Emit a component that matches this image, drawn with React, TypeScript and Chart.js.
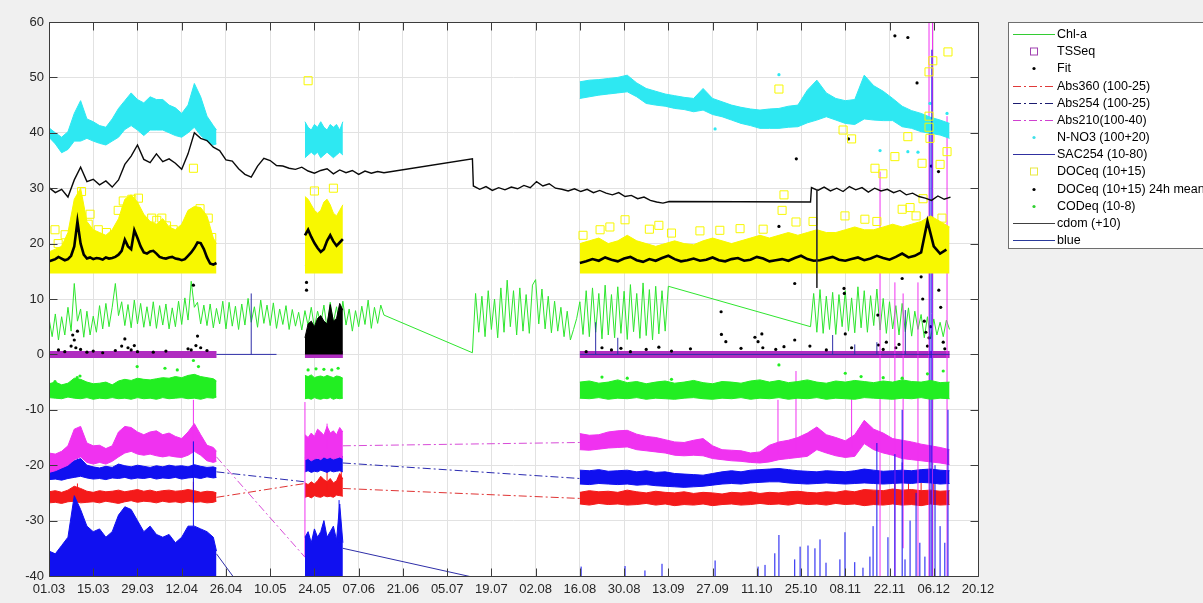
import React, { useEffect, useRef } from "react";
import { Chart, registerables } from "chart.js";

Chart.register(...registerables);

const FONT = '"Liberation Sans", Arial, Helvetica, sans-serif';

// ---------- axes ----------
const tickDays = [0, 14, 28, 42, 56, 70, 84, 98, 112, 126, 140, 154, 168, 182, 196, 210, 224, 238, 252, 266, 280, 294];
const tickLabels = ["01.03", "15.03", "29.03", "12.04", "26.04", "10.05", "24.05", "07.06", "21.06", "05.07", "19.07", "02.08", "16.08", "30.08", "13.09", "27.09", "11.10", "25.10", "08.11", "22.11", "06.12", "20.12"];
const yTicks = [-40, -30, -20, -10, 0, 10, 20, 30, 40, 50, 60];

// ---------- sample days (days after 01.03) of the three measuring periods ----------
const daysA = [0, 2, 4, 6, 8, 10, 12, 14, 16, 18, 20, 22, 24, 26, 28, 30, 32, 34, 36, 38, 40, 42, 44, 46, 48, 50, 52, 53];
const daysB = [81, 82, 83, 84, 85, 86, 87, 88, 89, 90, 91, 92, 93];
const daysC = [168, 171, 174, 177, 180, 183, 186, 189, 192, 195, 198, 201, 204, 207, 210, 213, 216, 219, 222, 225, 228, 231, 234, 237, 240, 243, 246, 249, 252, 255, 258, 261, 264, 267, 270, 273, 276, 279, 282, 285];

// ---------- Chl-a (daily) ----------
const chlA = [6.5, 3.2, 7.3, 2.6, 6.8, 3.5, 8.5, 4.2, 12.8, 6, 8.2, 3.1, 7.8, 3.5, 6.9, 4, 8.8, 4.6, 9.2, 5, 8.5, 12.8, 7, 9.5, 5.2, 9, 4.8, 9.8, 5.5, 9.2, 4.9, 8.6, 5.1, 9.5, 4.7, 8.8, 5.3, 9.1, 4.6, 8.4, 5, 9.6, 5.4, 10.2, 6.2, 13.2, 8.5, 9.4, 5.5, 8.9, 5.2, 9.1, 4.8, 8.3, 5.5, 9.6, 4.6, 9.4, 5.1, 8.7, 4.5, 9.1, 5.3, 10.1, 5.8, 8.6, 4.9, 9.8, 5.6, 8.9, 5.2, 9.3, 4.7, 8.2, 5.4, 8.8, 4.5, 8.1, 5.1, 7.6, 4.4, 7.9, 5.2, 8.5, 4.8, 7.8, 5.5, 8.9, 4.6, 9.4, 5.8, 8.6, 4.9, 9.6, 5.3, 8.2, 4.2, 7.9, 5, 8.7, 5.4, 9.8, 4.7, 8.5, 5.6, 8.9, 7.1];
const chlB = [0.3, 11, 4, 10.5, 3.2, 11.5, 4.5, 10, 3, 12, 4, 13.4, 5, 11.5, 3.5, 12, 4.2, 10.8, 3.8, 12.5, 13.5, 5.5, 11.8, 4.6, 10.5, 3.9, 9.6, 4.2, 8.5, 3.2, 7.8, 2.6, 4.5, 6.5, 9.5, 3.6, 11.5, 3.2, 12, 4, 11, 2.8, 12.5, 3.5, 10.8, 3, 12.2, 3.8, 11.4, 2.7, 12.6, 4.1, 11, 2.9, 12.9, 3.4, 11.7, 2.6, 12.3, 3.7, 11.5, 4.2, 12.3];
const chlC = [5, 11, 4, 11.7, 3.8, 10.5, 4.5, 11.2, 3.6, 10.8, 5, 11.5, 4.2, 10.2, 3.9, 12.2, 4.8, 11.5, 4, 10.6, 5.2, 11.8, 4.4, 10.1, 3.8, 9.5, 4.6, 8.8, 3.5, 9.2, 4.1, 8.4, 3.3, 7.8, 4.5, 7.2, 3, 6.8, 2.8, 6.4, 3.5, 5.8, 3.2, 6.2, 4.5];

// ---------- TSSeq ----------
const tssSegments = [[0, 53], [81, 93], [168, 285]];
const tssLevel = 0;

// ---------- Fit ----------
const fitDots = [[3, 0.8], [5, 0.5], [7, 1.5], [7.5, 3.5], [8, 2.6], [8.5, 1.2], [9, 4.2], [10, 0.9], [12, 0.4], [14, 0.6], [17, 0.3], [21, 0.7], [23, 1.5], [24, 2.8], [25, 1.2], [26, 0.8], [27, 1.6], [28, 0.5], [33, 0.4], [37, 0.6], [44, 1], [45, 0.8], [45.7, 12.5], [46.5, 1.6], [47, 3.3], [48, 1.2], [50, 0.7], [81.5, 11.6], [81.5, 13], [81.5, 16], [81.6, 18], [170, 0.5], [175, 1.2], [178, 0.8], [181, 1.1], [184, 0.5], [189, 0.9], [193, 1.3], [197, 0.6], [203, 1], [212.7, 7.7], [212.8, 3.6], [214.2, 2.3], [219, 1.1], [223.4, 3.1], [224.4, 2.3], [225.6, 3.7], [225.9, 1.2], [230, 0.9], [231, 23.1], [232.6, 1.4], [236, 2.6], [236, 12.8], [236.5, 35.3], [240.8, 1.5], [246, 0.8], [251.6, 11.9], [251.7, 11], [252, 3.7], [253, 38.9], [254, 1.2], [262.3, 7.1], [262.5, 1.7], [264, 0.9], [265, 2.2], [267.7, 57.5], [268, 1.2], [269, 1.8], [270, 13.7], [271.8, 57.2], [274.7, 49], [276, 14], [276.5, 10], [277, 6], [277.5, 4], [278, 1.5], [278.5, 3], [279, 5], [279.2, 34], [281.5, 33], [281.6, 11.6], [282.2, 8.5], [283, 2.2], [283.5, 1]];
const fitBHi = [3, 5.5, 6, 5, 6.5, 7, 6, 5.5, 9, 6, 6.5, 9.2, 8];

// ---------- Abs360 (100-25) ----------
const abs360AHi = [-24.8, -24.6, -24.9, -24.5, -23.8, -24.2, -24.7, -24.9, -24.6, -24.8, -24.7, -24.5, -24.8, -24.6, -24.4, -24.7, -24.5, -24.8, -24.6, -24.5, -24.7, -24.6, -24.4, -24.6, -24.9, -24.7, -24.8, -25];
const abs360ALo = [-26.8, -26.7, -26.9, -26.6, -26.5, -26.8, -26.7, -26.6, -26.8, -26.5, -26.7, -26.9, -26.6, -26.4, -26.7, -26.5, -26.6, -26.8, -26.5, -26.7, -26.6, -26.8, -26.5, -26.7, -26.6, -26.8, -26.7, -26.5];
const abs360BHi = [-23.2, -23.5, -23, -23.4, -22.8, -22, -22.6, -23, -22.4, -23.2, -22.8, -21.5, -22.5];
const abs360BLo = [-25.8, -25.6, -25.9, -25.5, -25.7, -25.8, -25.5, -25.7, -25.6, -25.8, -25.4, -25.5, -25.6];
const abs360CHi = [-24.9, -24.6, -24.8, -24.7, -24.9, -24.5, -24.8, -25, -24.7, -24.9, -25, -24.8, -25.1, -24.9, -25, -25.2, -24.9, -25, -24.8, -25.1, -24.9, -25, -24.8, -24.7, -24.9, -25, -24.8, -24.9, -24.6, -24.8, -24.4, -24.5, -24.6, -24.3, -24.5, -24.4, -24.6, -24.5, -24.7, -24.6];
const abs360CLo = [-27, -27.2, -26.9, -27.1, -27, -27.2, -27.1, -26.9, -27.2, -27, -27.3, -27.1, -27.2, -27, -27.3, -27.1, -27, -27.2, -27.1, -26.9, -27.1, -27, -27.2, -26.9, -27.1, -27, -27.2, -26.9, -27.1, -27, -27.3, -27.1, -27.2, -27, -27.2, -27.1, -27.3, -27, -27.2, -27.1];
const abs360Links = [[53, -25.8, 81, -23.3], [93, -24.2, 168, -26]];
const abs360Spikes = [[9, -26, -23.3], [45.7, -27, -23], [88, -25, -19.6], [92.5, -25, -18.5], [263, -27, -22.3], [267.7, -27, -21.5], [272, -27, -22], [276, -27, -21.8], [280, -27, -22.5]];

// ---------- Abs254 (100-25) ----------
const abs254AHi = [-20.8, -20.6, -20.4, -19.9, -19.2, -18.8, -20, -20.3, -20.5, -20.2, -20.4, -19.8, -20.1, -20.3, -20, -20.2, -20.4, -20.1, -20.3, -20, -20.2, -20.1, -20.3, -19.9, -20.2, -20.4, -20.3, -20.5];
const abs254ALo = [-22.6, -22.5, -22.7, -22.4, -22.2, -22, -22.3, -22.5, -22.4, -22.6, -22.3, -22.4, -22.2, -22.5, -22.3, -22.4, -22.2, -22.5, -22.3, -22.4, -22.2, -22.5, -22.3, -22.2, -22.4, -22.1, -22.3, -22.2];
const abs254BHi = [-18.6, -18.2, -18.8, -18.5, -18.9, -18.4, -18.2, -18.7, -18.5, -18.3, -18.8, -18.6, -18.4];
const abs254BLo = [-21.2, -21, -21.3, -21.1, -21.2, -20.9, -21.1, -21.3, -21, -21.2, -21.1, -21, -21.2];
const abs254CHi = [-20.9, -21, -20.8, -21.1, -21, -20.9, -21.2, -21, -21.3, -21.2, -21.5, -21.6, -21.7, -21.8, -21.5, -21.2, -21, -21.2, -20.9, -20.8, -20.7, -20.6, -20.8, -21, -21.1, -21.2, -21, -21.1, -21.2, -21, -20.7, -20.9, -21.1, -21, -20.9, -21, -20.8, -20.7, -20.9, -21];
const abs254CLo = [-23.4, -23.5, -23.3, -23.4, -23.5, -23.4, -23.6, -23.5, -23.7, -23.8, -23.9, -24, -23.9, -23.8, -23.6, -23.4, -23.3, -23.4, -23.2, -23.1, -23, -23, -23.2, -23.3, -23.4, -23.3, -23.2, -23.3, -23.4, -23.3, -23.2, -23.3, -23.4, -23.3, -23.2, -23.3, -23.1, -23.2, -23.4, -23.3];
const abs254Links = [[53, -21.2, 81, -23], [93, -19.6, 168, -22.4]];
const abs254Spikes = [[9, -22, -18.5], [45.7, -22, -17], [270, -23, -19.5]];

// ---------- Abs210 (100-40) ----------
const abs210AHi = [-17.8, -18, -17.5, -16.5, -13.5, -13, -16, -16.5, -16.4, -17, -16.5, -14, -13, -13.2, -14, -14.5, -14, -13.8, -14.5, -14.2, -14.8, -15.2, -14, -12.5, -14.5, -16.4, -16.8, -17.5];
const abs210ALo = [-21.3, -21, -20.5, -20, -19, -18.5, -19.5, -19.8, -19.5, -19.8, -19.3, -18.5, -17.8, -17.5, -18, -18.2, -18, -18.3, -18.5, -18.3, -18.5, -18.6, -18.2, -17.5, -18.2, -19.2, -19.5, -19.3];
const abs210BHi = [-14.5, -15, -14.2, -14.8, -13.5, -14, -14.6, -13, -14.2, -13.8, -14.5, -13.2, -14];
const abs210BLo = [-19, -18.8, -19.2, -18.9, -18.7, -19, -18.5, -18.8, -18.6, -18.9, -18.7, -18.5, -18.8];
const abs210CHi = [-14.3, -14.6, -14.5, -14, -13.8, -13.7, -14.4, -14.8, -15, -15.4, -15.8, -15.9, -15.5, -15.2, -16.5, -17.2, -17.3, -17.4, -17.8, -17.6, -16.4, -15.8, -15.5, -15, -14.2, -13.1, -14.5, -15, -15.6, -14.5, -11.9, -13.5, -14.2, -15.2, -15.5, -15.8, -16.2, -16.5, -16.8, -17.2];
const abs210CLo = [-17.2, -17.3, -17.1, -16.9, -16.8, -16.7, -17.2, -17.4, -17.6, -17.8, -18.2, -18.3, -18.2, -18.3, -18.8, -19, -19.2, -19.3, -19.5, -19.6, -19.4, -19, -18.8, -18.6, -18.4, -17.2, -17.8, -18.3, -18.6, -18.4, -16.1, -17.2, -17.8, -18.2, -18.8, -19, -19.2, -19.4, -19.6, -19.9];
const abs210Links = [[53, -18.5, 81, -36.6], [93, -16.5, 168, -15.9]];
const abs210Spikes = [[45.7, -18, -8.2], [81, -36.6, -8.6], [88, -17, -12.5], [230.7, -18, -8.2], [236.4, -18, -3], [254, -17, -8], [263, -40, 33], [267.7, -40, 13], [270.3, -35, 11], [275, -40, 13], [278.5, -40, 60], [279.6, -40, 60], [284.2, -40, 43]];

// ---------- N-NO3 (100+20) ----------
const no3AHi = [40.9, 40, 39.2, 40.2, 43.5, 45.8, 42.5, 42, 41.3, 41, 42.5, 44.4, 45.8, 47.2, 46, 45.4, 46.5, 46, 46, 45, 44.5, 43.5, 45, 48.9, 46.5, 43, 41.3, 40.5];
const no3ALo = [39.2, 38, 36.4, 37, 38.5, 38.5, 39, 38.5, 38.1, 37.8, 38.5, 39.2, 40.6, 41.3, 40.5, 39.5, 40.5, 40.5, 40.5, 40, 39.5, 39.2, 40, 41, 39.5, 38.5, 37.8, 38];
const no3BHi = [42, 41, 40.5, 41.5, 41, 42, 41, 40.5, 41.5, 41, 41.5, 40.5, 42];
const no3BLo = [35.5, 36, 36.5, 36, 36.5, 35.5, 36, 36.5, 36, 35.5, 36, 36.5, 36];
const no3CHi = [49.2, 49.5, 49.6, 49.8, 50, 50.4, 49, 48, 47.5, 47, 46.7, 46.4, 46.2, 48, 46.2, 45.6, 45, 44.6, 44.3, 44.1, 44.3, 44.4, 44.8, 45, 47.7, 49.5, 47.2, 46.2, 45.8, 46, 50.4, 48.5, 47.5, 46.2, 44.8, 44, 43.5, 42.8, 42.3, 41.7];
const no3CLo = [46.2, 46.5, 46.8, 47, 47.2, 47.4, 46.5, 45.3, 45, 44.8, 44.4, 44.2, 43.8, 44.1, 43.3, 42.9, 42.3, 41.7, 41.3, 40.8, 40.8, 40.8, 41, 41.1, 41.8, 42.3, 42.9, 42.3, 41.7, 41.5, 42.5, 42.3, 42.2, 42.2, 41.1, 40.8, 40.2, 39.9, 39.6, 39];
const no3Dots = [[210.8, 40.7], [231, 50.5], [263, 36.8], [271.8, 36.6], [275, 36.5], [278.8, 45.3], [284.2, 43.5]];

// ---------- SAC254 (10-80) ----------
const sacAHi = [-35.5, -36, -34.5, -33, -25.5, -28, -31, -32, -31.5, -33, -32, -29, -27.5, -28, -30, -32, -31, -32.5, -33, -32.5, -34, -33, -31, -31, -31.5, -32, -33, -35.5];
const sacBHi = [-33, -32, -34, -31.5, -33, -32, -30, -33, -32, -31, -33.5, -27, -34];
const sacLinks = [[53, -36, 62, -43], [93, -35, 168, -44.5]];
const sacSpikes = [[45.7, -31, -15.7], [91.8, -34, -26.3], [168.4, -40.5, -38.3], [182.3, -40.5, -38.2], [188.6, -40.5, -39], [194, -40.5, -37.8], [210.8, -40.5, -37.2], [224.4, -40.5, -38.3], [226.6, -40.5, -38], [229.7, -40.5, -35.9], [231, -40.5, -32.6], [236, -40.5, -37], [237.7, -40.5, -34.7], [240.2, -40.5, -34.5], [242.4, -40.5, -35], [244, -40.5, -33.4], [245.9, -40.5, -37.6], [250.3, -40.5, -37], [251.9, -40.5, -32.1], [255, -40.5, -37.5], [257.6, -40.5, -38.5], [259.8, -40.5, -36.5], [260.8, -40.5, -31], [262, -40.5, -16], [265.5, -40.5, -33], [267.7, -40.5, -18], [270, -40.5, -10], [270.9, -40.5, -37], [272.5, -40.5, -30], [274.4, -40.5, -25], [275.6, -40.5, -34], [277.2, -40.5, -36.5], [278.8, -40.5, 40], [279.4, -40.5, 55], [280.4, -40.5, -20], [282, -40.5, -31], [283.5, -40.5, -34], [284.5, -40.5, -10]];

// ---------- DOCeq (10+15) ----------
const docLo = 14.6;
const docAHi = [18.5, 19, 19.5, 22, 28, 30, 24, 22.5, 22, 21.5, 22.5, 24.5, 28, 28.8, 27.5, 25.3, 24, 23.5, 24.5, 23, 22.5, 23.5, 26, 26.7, 26.5, 25, 21, 20];
const docBHi = [28.5, 28, 27, 26, 25.5, 26, 27.5, 28, 27, 25.5, 25, 26, 27];
const docCHi = [20, 20.5, 21, 20, 20.5, 21.5, 20.5, 20, 19.5, 20, 20.5, 20, 19.8, 20.5, 21, 20.5, 20, 20.5, 21, 21.5, 21, 21.5, 22, 21.5, 22, 22.5, 22, 22, 22.5, 23, 22.5, 22.5, 23, 23.5, 23, 23.5, 24, 25, 24, 23];
const docSquares = [[1.9, 22.5], [2.9, 20], [5.1, 21.6], [10.3, 29.4], [12.4, 23.5], [13, 25.3], [15.6, 22.5], [18.2, 22], [21.9, 26], [23.5, 27.7], [26.2, 28], [28.3, 28.2], [32.5, 24.6], [34.1, 24.2], [35.7, 24.6], [37.2, 23.2], [39.3, 22.5], [45.7, 33.6], [47.8, 26.3], [50.4, 24.6], [51.5, 21.1], [82, 49.4], [84, 29.5], [90, 30], [169, 21.5], [174.4, 22.5], [177.5, 23], [182.3, 24.3], [190, 22.6], [193, 23.3], [197, 21.9], [206, 22.3], [212.3, 22.4], [218.7, 22.7], [226, 22.6], [231, 47.9], [232, 26], [232.6, 28.8], [236.4, 23.9], [241.8, 24], [251.3, 40.5], [251.9, 25], [254, 38.9], [258.2, 24.4], [261.4, 33.6], [262, 24], [263.9, 32.6], [267.7, 35.7], [270, 26.2], [271.8, 39.3], [272.5, 26.5], [274.4, 25], [276.3, 34.5], [276.6, 28.1], [278.5, 51], [278.5, 43], [278.5, 41], [278.8, 39], [279.7, 53], [282, 34.3], [282.6, 24.6], [284.2, 36.6], [284.5, 54.6]];

// ---------- DOCeq (10+15) 24h mean ----------
const doc24A = [16.8, 17, 17.2, 17.6, 17.3, 17, 17.2, 17.8, 19.5, 24, 20, 18, 17.3, 17.5, 17.2, 17.4, 17.3, 17.1, 17.5, 17.3, 17.4, 17.6, 18, 18.7, 20.7, 19.5, 19, 22.4, 21, 19.5, 18.4, 18.2, 18.6, 18.7, 18.2, 17.6, 17.4, 17.3, 17.5, 17.6, 17.3, 17.2, 17, 17.2, 17.8, 18.4, 19.2, 20.2, 20.1, 19, 17.5, 16.4, 16.2, 16.5];
const doc24B = [21.5, 22.5, 21.2, 20.1, 19.2, 18.5, 19, 20.5, 21.5, 20.4, 19.6, 20.2, 20.8];
const doc24C = [16.5, 16.8, 17.2, 16.9, 17.5, 17.1, 16.8, 17.3, 17.6, 17, 16.7, 17.2, 16.9, 17.4, 17.8, 17.2, 16.8, 17, 17.3, 16.9, 17.1, 17.5, 17, 16.8, 17.2, 17.4, 16.9, 17.1, 17.6, 17.3, 16.8, 17, 17.2, 16.9, 17.4, 17.8, 17.2, 16.9, 17, 17.3, 17.6, 17.1, 16.9, 17.2, 17.5, 17, 17.3, 17.8, 17.4, 17.1, 17.6, 18.2, 17.5, 17.8, 18.4, 24, 19.5, 18.2, 18.9];

// ---------- CODeq (10-8) ----------
const codAHi = [-5.3, -5, -5.5, -5.2, -4.3, -4.5, -5, -5.3, -5.2, -5, -5.5, -4.8, -4.5, -4.7, -4.3, -4.5, -4.6, -4.4, -4.2, -4.3, -4, -4.2, -3.8, -3.6, -4, -4.2, -4.4, -4.8];
const codALo = [-7.8, -7.9, -8, -7.7, -7.9, -8, -7.8, -8.1, -7.9, -8, -7.8, -8, -7.9, -8.1, -7.8, -8, -7.9, -8.1, -7.8, -8, -7.9, -7.8, -8, -7.9, -8.1, -7.8, -7.9, -7.7];
const codBHi = [-3.8, -4, -3.7, -4.2, -4, -3.9, -4.1, -3.8, -4, -4.2, -3.9, -4, -4.3];
const codBLo = [-8, -7.9, -8.1, -7.8, -8, -8.1, -7.9, -8, -7.8, -8.1, -7.9, -8, -7.9];
const codCHi = [-5, -4.8, -5.2, -5, -4.6, -5.1, -4.9, -5.3, -5, -4.8, -5.2, -5, -4.7, -5.1, -5.3, -4.9, -5, -5.2, -4.8, -4.6, -5, -4.7, -5.1, -4.9, -4.6, -5, -5.2, -4.8, -5, -4.7, -4.9, -5.1, -4.8, -5, -4.6, -4.9, -5, -4.7, -5.1, -5];
const codCLo = [-7.9, -8, -7.8, -8.1, -7.9, -8, -7.8, -8.1, -7.9, -8, -8.1, -7.9, -7.8, -8, -8.1, -7.9, -8, -7.8, -8.1, -7.9, -8, -7.8, -8.1, -7.9, -8, -7.8, -8.1, -7.9, -8, -8.1, -7.8, -7.9, -8, -8.1, -7.9, -8, -7.8, -8.1, -7.9, -8];
const codDots = [[1.9, -4.9], [8.9, -4.2], [9.8, -3.9], [27.9, -2.2], [36.7, -2.5], [40.6, -2.8], [45.7, -1.1], [47.3, -2.2], [82, -2.8], [84.5, -2.6], [87, -2.7], [89.5, -2.8], [91.5, -2.5], [175, -4.1], [183, -4.3], [197, -4.5], [231, -1.9], [252, -3.4], [257, -4], [264, -4.2], [270, -4.3], [278, -3.5], [283, -3]];

// ---------- cdom (+10) ----------
const cdomA = [30.1, 29.2, 29.8, 28.4, 31.5, 33.8, 31.2, 31.6, 30.6, 31.3, 30.2, 31.5, 34.3, 35.8, 37.8, 35.2, 34.6, 36.2, 34.8, 35.3, 34.5, 33.4, 36.2, 40, 39, 38.6, 37.4, 36.8, 35.1, 34.9, 33.5, 32.5, 32, 34, 35.4, 35, 34.1, 34, 33.6, 33.4, 33.8, 33.1, 32.7, 33.2, 33.5, 32.6, 33.3, 32.8, 33.2, 32.5, 33.1, 32.7, 33, 32.8];
const cdomLink1 = [[134, 35.3]];
const cdomB = [30.4, 29.8, 30.3, 29.6, 30.1, 29.7, 30.2, 29.9, 30.5, 30.1, 31.2, 30.4, 30.8, 30, 29.8, 29.5, 29.9, 29.4, 29.8, 29.2, 29.6, 29.1, 28.8, 29.2, 28.5, 28.7, 28.1, 28.4, 27.8, 27.5, 27.3, 27.6];
const cdomLink2 = [[241, 27.5]];
const cdomC = [30.1, 29.6, 30.2, 29.5, 30, 29.4, 30.3, 29.7, 30.1, 29.3, 30, 29.5, 29.8, 29.2, 29.6, 28.8, 29.1, 28.5, 28.2, 27.8, 28.6, 28, 28.4];
const cdomSpikes = [[243, 29.8, 12]];

// ---------- blue ----------
const blueSegments = [[53, 72], [168, 285]];
const blueLevel = 0;
const blueSpikes = [[64, 0, 11], [173, 0, 5.8], [180, 0, 3], [248, 0, 3.5], [255, 0, 1.8], [262, 0, 2.2], [271, 0, 8]];

// ---------- legend ----------
const legendLabels = ["Chl-a", "TSSeq", "Fit", "Abs360 (100-25)", "Abs254 (100-25)", "Abs210(100-40)", "N-NO3 (100+20)", "SAC254 (10-80)", "DOCeq (10+15)", "DOCeq (10+15) 24h mean", "CODeq (10-8)", "cdom (+10)", "blue"];
const legendStyles = [
  { kind: "line", color: "#33cc33" },
  { kind: "square", color: "#a040b0" },
  { kind: "dot", color: "#000000" },
  { kind: "dashdot", color: "#e03a3a" },
  { kind: "dashdot", color: "#1c1c70" },
  { kind: "dashdot", color: "#d040d0" },
  { kind: "dot", color: "#40e0e8" },
  { kind: "line", color: "#3030a0" },
  { kind: "square", color: "#e8e840" },
  { kind: "dot", color: "#000000" },
  { kind: "dot", color: "#30d030" },
  { kind: "line", color: "#404040" },
  { kind: "line", color: "#2a3a9a" },
];

// ---------- colours ----------
const C = {
  green: "#2ee62e",
  codGreen: "#22ee22",
  purple: "#b02cc0",
  red: "#f41a1a",
  redThin: "#e03434",
  blue: "#1010f0",
  blueThin: "#2b2bb0",
  magenta: "#f032f0",
  magentaThin: "#d84cd8",
  cyan: "#2ee8f2",
  yellow: "#f8f800",
  black: "#000000",
  navy: "#2e2ea8",
};
const DASHDOT = [8, 3, 2, 3];

type Pt = { x: number; y: number | null };
const onDays = (days: number[], vals: number[]): Pt[] => vals.map((y, i) => ({ x: days[i], y }));
const fromDay = (start: number, step: number, vals: number[]): Pt[] => vals.map((y, i) => ({ x: start + i * step, y }));
const fromPairs = (list: number[][]): Pt[] => list.map(([x, y]) => ({ x, y }));
const asSpikes = (list: number[][]): Pt[] => list.flatMap(([x, a, b]) => [{ x, y: a }, { x, y: b }, { x, y: null }]);
const asLinks = (list: number[][]): Pt[] => list.flatMap(([x1, y1, x2, y2]) => [{ x: x1, y: y1 }, { x: x2, y: y2 }, { x: x2, y: null }]);
const asLevel = (segs: number[][], level: number): Pt[] => segs.flatMap(([a, b]) => [{ x: a, y: level }, { x: b, y: level }, { x: b, y: null }]);
const gap = (x: number): Pt => ({ x, y: null });

function buildDatasets() {
  const ds: any[] = [];
  const line = (data: Pt[], color: string, extra: any = {}) =>
    ds.push({ data, borderColor: color, backgroundColor: color, borderWidth: 1, pointRadius: 0, fill: false, ...extra });
  const dots = (data: Pt[], color: string, radius: number, extra: any = {}) =>
    ds.push({ data, showLine: false, pointRadius: radius, pointBorderWidth: 0, pointBackgroundColor: color, pointBorderColor: color, borderColor: color, backgroundColor: color, ...extra });
  const band = (days: number[], hi: number[], lo: number[], color: string) => {
    line(onDays(days, hi), color);
    line(onDays(days, lo), color, { fill: "-1" });
  };

  // Chl-a
  line([...fromDay(0, 1, chlA), ...fromDay(134, 1, chlB), ...fromDay(241, 1, chlC)], C.green);
  // TSSeq
  line(asLevel(tssSegments, tssLevel), C.purple, { borderWidth: 7, borderCapStyle: "butt" });
  // Fit
  line(onDays(daysB, fitBHi), C.black, { fill: { value: 0 } });
  dots(fromPairs(fitDots), C.black, 1.6);
  // Abs360
  band(daysA, abs360AHi, abs360ALo, C.red);
  band(daysB, abs360BHi, abs360BLo, C.red);
  band(daysC, abs360CHi, abs360CLo, C.red);
  line(asLinks(abs360Links), C.redThin, { borderDash: DASHDOT });
  line(asSpikes(abs360Spikes), C.red);
  // Abs254
  band(daysA, abs254AHi, abs254ALo, C.blue);
  band(daysB, abs254BHi, abs254BLo, C.blue);
  band(daysC, abs254CHi, abs254CLo, C.blue);
  line(asLinks(abs254Links), C.blueThin, { borderDash: DASHDOT });
  line(asSpikes(abs254Spikes), C.blue);
  // Abs210
  band(daysA, abs210AHi, abs210ALo, C.magenta);
  band(daysB, abs210BHi, abs210BLo, C.magenta);
  band(daysC, abs210CHi, abs210CLo, C.magenta);
  line(asLinks(abs210Links), C.magentaThin, { borderDash: DASHDOT });
  line(asSpikes(abs210Spikes), C.magenta);
  // N-NO3
  band(daysA, no3AHi, no3ALo, C.cyan);
  band(daysB, no3BHi, no3BLo, C.cyan);
  band(daysC, no3CHi, no3CLo, C.cyan);
  dots(fromPairs(no3Dots), C.cyan, 1.6);
  // SAC254
  line(onDays(daysA, sacAHi), C.blue, { fill: "start" });
  line(onDays(daysB, sacBHi), C.blue, { fill: "start" });
  line(asLinks(sacLinks), C.navy);
  line(asSpikes(sacSpikes), C.blue);
  // DOCeq
  line(onDays(daysA, docAHi), C.yellow, { fill: { value: docLo } });
  line(onDays(daysB, docBHi), C.yellow, { fill: { value: docLo } });
  line(onDays(daysC, docCHi), C.yellow, { fill: { value: docLo } });
  dots(fromPairs(docSquares), C.yellow, 5.7, { pointStyle: "rect", pointBackgroundColor: "rgba(0,0,0,0)", pointBorderWidth: 1 });
  // DOCeq 24h mean
  line([...fromDay(0, 1, doc24A), gap(60), ...fromDay(81, 1, doc24B), gap(120), ...fromDay(168, 2, doc24C)], C.black, { borderWidth: 2.6 });
  // CODeq
  band(daysA, codAHi, codALo, C.codGreen);
  band(daysB, codBHi, codBLo, C.codGreen);
  band(daysC, codCHi, codCLo, C.codGreen);
  dots(fromPairs(codDots), C.codGreen, 1.6);
  // cdom
  line([...fromDay(0, 2, cdomA), ...fromPairs(cdomLink1), ...fromDay(134.3, 2, cdomB), ...fromPairs(cdomLink2), ...fromDay(241.3, 2, cdomC)], "#0a0a0a", { borderWidth: 1.4 });
  line(asSpikes(cdomSpikes), "#333333");
  // blue
  line(asLevel(blueSegments, blueLevel), C.navy);
  line(asSpikes(blueSpikes), C.navy);

  return ds.map((d, i) => ({ ...d, order: -i, clip: 0, spanGaps: false, tension: 0 }));
}

const framePlugin = {
  id: "frame",
  beforeDraw(chart: any) {
    const { ctx, chartArea: a } = chart;
    ctx.save();
    ctx.fillStyle = "#ffffff";
    ctx.fillRect(a.left, a.top, a.right - a.left, a.bottom - a.top);
    ctx.restore();
  },
  afterDatasetsDraw(chart: any) {
    const { ctx, chartArea: a, scales } = chart;
    const L = Math.round(a.left) + 0.5;
    const R = Math.round(a.right) + 0.5;
    const T = Math.round(a.top) + 0.5;
    const B = Math.round(a.bottom) + 0.5;
    const TL = 8;
    ctx.save();
    ctx.strokeStyle = "#3c3c3c";
    ctx.lineWidth = 1;
    ctx.beginPath();
    ctx.rect(L, T, R - L, B - T);
    tickDays.forEach((d) => {
      const x = Math.round(scales.x.getPixelForValue(d)) + 0.5;
      ctx.moveTo(x, B);
      ctx.lineTo(x, B - TL);
      ctx.moveTo(x, T);
      ctx.lineTo(x, T + TL);
    });
    yTicks.forEach((v) => {
      const y = Math.round(scales.y.getPixelForValue(v)) + 0.5;
      ctx.moveTo(L, y);
      ctx.lineTo(L + TL, y);
      ctx.moveTo(R, y);
      ctx.lineTo(R - TL, y);
    });
    ctx.stroke();
    ctx.restore();
  },
};

const legendPlugin = {
  id: "matlabLegend",
  afterDraw(chart: any) {
    const ctx = chart.ctx;
    const bx = 1008.5, by = 22.5, bw = 260, bh = 226;
    ctx.save();
    ctx.fillStyle = "#ffffff";
    ctx.fillRect(bx, by, bw, bh);
    ctx.strokeStyle = "#6e6e6e";
    ctx.lineWidth = 1;
    ctx.strokeRect(bx, by, bw, bh);
    ctx.font = `12.5px ${FONT}`;
    ctx.textBaseline = "middle";
    ctx.textAlign = "left";
    legendLabels.forEach((label, i) => {
      const y = Math.round(34 + i * 17.17) + 0.5;
      const st = legendStyles[i];
      const x0 = 1013, x1 = 1055, xm = 1034;
      ctx.strokeStyle = st.color;
      ctx.fillStyle = st.color;
      ctx.lineWidth = 1;
      if (st.kind === "line" || st.kind === "dashdot") {
        ctx.setLineDash(st.kind === "dashdot" ? DASHDOT : []);
        ctx.beginPath();
        ctx.moveTo(x0, y);
        ctx.lineTo(x1, y);
        ctx.stroke();
        ctx.setLineDash([]);
      } else if (st.kind === "square") {
        ctx.strokeRect(xm - 3.5, y - 3.5, 7, 7);
      } else {
        ctx.beginPath();
        ctx.arc(xm, y, 1.6, 0, Math.PI * 2);
        ctx.fill();
      }
      ctx.fillStyle = "#000000";
      ctx.fillText(label, 1057, y);
    });
    ctx.restore();
  },
};

export default function App() {
  const ref = useRef<HTMLCanvasElement | null>(null);
  useEffect(() => {
    if (!ref.current) return;
    const tickFont = { family: FONT, size: 13 };
    const chart = new Chart(ref.current, {
      type: "line",
      data: { datasets: buildDatasets() },
      options: {
        animation: false,
        responsive: false,
        maintainAspectRatio: false,
        devicePixelRatio: 1,
        events: [],
        layout: { padding: { left: 0, right: 225, top: 22, bottom: 0 } },
        plugins: { legend: { display: false }, tooltip: { enabled: false } },
        scales: {
          x: {
            type: "linear",
            min: 0,
            max: 294,
            afterBuildTicks: (s: any) => {
              s.ticks = tickDays.map((v) => ({ value: v }));
            },
            afterFit: (s: any) => {
              s.height = 27;
            },
            ticks: {
              autoSkip: false,
              maxRotation: 0,
              minRotation: 0,
              padding: 6,
              color: "#262626",
              font: tickFont,
              callback: (v: any) => {
                const i = tickDays.indexOf(Number(v));
                return i >= 0 ? tickLabels[i] : "";
              },
            },
            grid: { color: "#e2e2e2", drawTicks: false, lineWidth: 1 },
            border: { display: false },
          },
          y: {
            type: "linear",
            min: -40,
            max: 60,
            afterBuildTicks: (s: any) => {
              s.ticks = yTicks.map((v) => ({ value: v }));
            },
            afterFit: (s: any) => {
              s.width = 49;
            },
            ticks: { padding: 5, color: "#262626", font: tickFont },
            grid: { color: "#e2e2e2", drawTicks: false, lineWidth: 1 },
            border: { display: false },
          },
        },
      } as any,
      plugins: [framePlugin, legendPlugin],
    });
    return () => chart.destroy();
  }, []);

  return (
    <div style={{ position: "fixed", left: 0, top: 0, width: 1203, height: 603, background: "#f0f0f0", overflow: "hidden" }}>
      <canvas ref={ref} width={1203} height={603} style={{ display: "block", width: 1203, height: 603 }} />
    </div>
  );
}
